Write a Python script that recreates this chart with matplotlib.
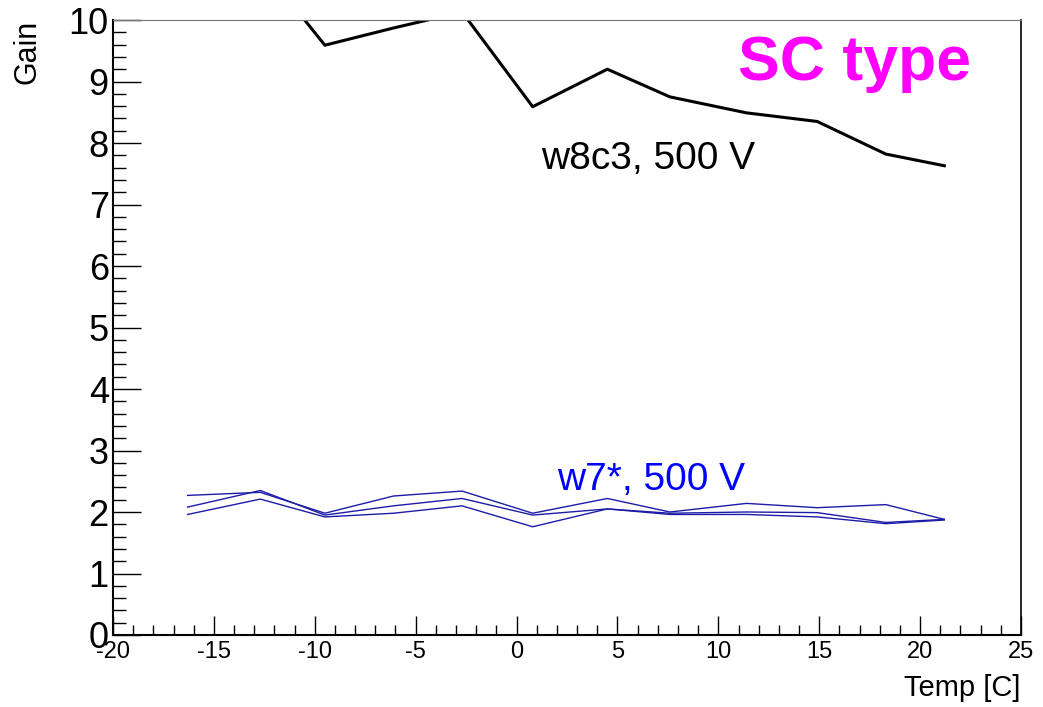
import numpy as np
from matplotlib import pyplot as plt
from matplotlib.ticker import MultipleLocator

plt.rcParams['font.family'] = ['Liberation Sans', 'DejaVu Sans']
plt.rcParams['axes.unicode_minus'] = False

# Temperatures [C]
temp = [-16.3, -12.7, -9.5, -6.1, -2.7, 0.8, 4.5, 7.6, 11.4, 14.9, 18.3, 21.2]

# w8c3 gain (first points lie above the frame)
gain_w8c3 = [11.3, 10.9, 9.59, 9.87, 10.13, 8.59, 9.20, 8.75, 8.49, 8.35, 7.82, 7.63]

# w7* gains
gain_w7a = [2.27, 2.32, 1.98, 2.26, 2.34, 1.98, 2.22, 2.00, 2.14, 2.07, 2.12, 1.88]
gain_w7b = [2.08, 2.35, 1.95, 2.10, 2.22, 1.95, 2.05, 1.98, 2.00, 1.99, 1.83, 1.88]
gain_w7c = [1.96, 2.21, 1.92, 1.98, 2.10, 1.76, 2.05, 1.96, 1.96, 1.92, 1.81, 1.87]

fig = plt.figure(figsize=(10.43, 7.07), dpi=100)
ax = fig.add_axes([113/1043, 1 - 635/707, (1021-113)/1043, (635-20)/707])

ax.plot(temp, gain_w8c3, color='black', lw=2.2)
for g in [gain_w7a, gain_w7b, gain_w7c]:
    ax.plot(temp, g, color='#1c1ca8', lw=1.0)

ax.set_xlim(-20, 25)
ax.set_ylim(0, 10)

ax.xaxis.set_major_locator(MultipleLocator(5))
ax.xaxis.set_minor_locator(MultipleLocator(1))
ax.yaxis.set_major_locator(MultipleLocator(1))
ax.yaxis.set_minor_locator(MultipleLocator(0.2))

ax.tick_params(axis='x', which='major', direction='in', length=13.5, width=1, labelsize=17, pad=4)
ax.tick_params(axis='x', which='minor', direction='in', length=7, width=1)
ax.tick_params(axis='y', which='major', direction='in', length=20, width=1, labelsize=26, pad=3)
ax.tick_params(axis='y', which='minor', direction='in', length=9.5, width=1)
ax.tick_params(top=False, right=False, which='both')

ax.spines['left'].set_linewidth(1.5)
ax.spines['bottom'].set_linewidth(1.5)
ax.spines['top'].set_color('#777777')
ax.spines['right'].set_linewidth(1.2)

ax.set_xlabel('Temp [C]', fontsize=21, loc='right', labelpad=8)
ax.set_ylabel('Gain', fontsize=22, loc='top')
ax.yaxis.set_label_coords(-0.078, 1.0)

ax.text(1.2, 7.57, 'w8c3, 500 V', fontsize=28, color='black', va='baseline')
ax.text(2.0, 2.36, 'w7*, 500 V', fontsize=28, color='blue', va='baseline')
ax.text(10.97, 9.03, 'SC type', fontsize=45, color='#ff00ff', fontweight='bold', va='baseline')

fig.savefig('out.png', dpi=100)
